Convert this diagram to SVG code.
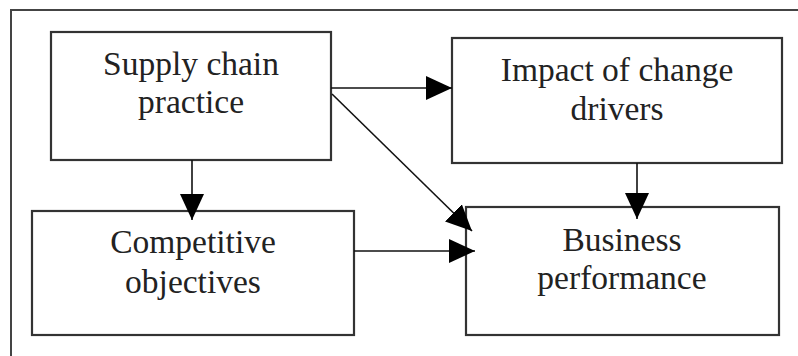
<svg xmlns="http://www.w3.org/2000/svg" width="798" height="356" viewBox="0 0 798 356">
  <defs>
    <marker id="arrow" viewBox="0 0 26 24" refX="26" refY="12" markerWidth="26" markerHeight="24" markerUnits="userSpaceOnUse" orient="auto">
      <path d="M0,0 L26,12 L0,24 Z" fill="#000"/>
    </marker>
    <style>
      .frame { fill: none; stroke: #444; stroke-width: 2; }
      .box { fill: #fff; stroke: #333; stroke-width: 2.2; }
      .label { font-family: "Liberation Serif", "Times New Roman", serif; font-size: 33.5px; fill: #222; text-anchor: middle; }
      .link { fill: none; stroke: #111; stroke-width: 1.6; marker-end: url(#arrow); }
    </style>
  </defs>
  <rect width="798" height="356" fill="#fff"/>
  <!-- open outer frame: top and left sides only -->
  <path class="frame" d="M11,356 L11,10 L798,10"/>

  <g id="supply-chain-practice">
    <rect class="box" x="51" y="32" width="280" height="128"/>
    <text class="label" x="191" y="75">Supply chain</text>
    <text class="label" x="191" y="113">practice</text>
  </g>

  <g id="impact-of-change-drivers">
    <rect class="box" x="452" y="38" width="330" height="125"/>
    <text class="label" x="617" y="81">Impact of change</text>
    <text class="label" x="617" y="120">drivers</text>
  </g>

  <g id="competitive-objectives">
    <rect class="box" x="32" y="211" width="322" height="124"/>
    <text class="label" x="193" y="253">Competitive</text>
    <text class="label" x="193" y="293">objectives</text>
  </g>

  <g id="business-performance">
    <rect class="box" x="466" y="207" width="313" height="128"/>
    <text class="label" x="622" y="251">Business</text>
    <text class="label" x="622" y="289">performance</text>
  </g>

  <g id="connectors">
    <line class="link" x1="331" y1="88" x2="452" y2="88"/>
    <line class="link" x1="332" y1="94" x2="472" y2="231"/>
    <line class="link" x1="192" y1="160" x2="192" y2="220"/>
    <line class="link" x1="354" y1="251" x2="475" y2="251"/>
    <line class="link" x1="637" y1="163" x2="637" y2="219"/>
  </g>
</svg>
